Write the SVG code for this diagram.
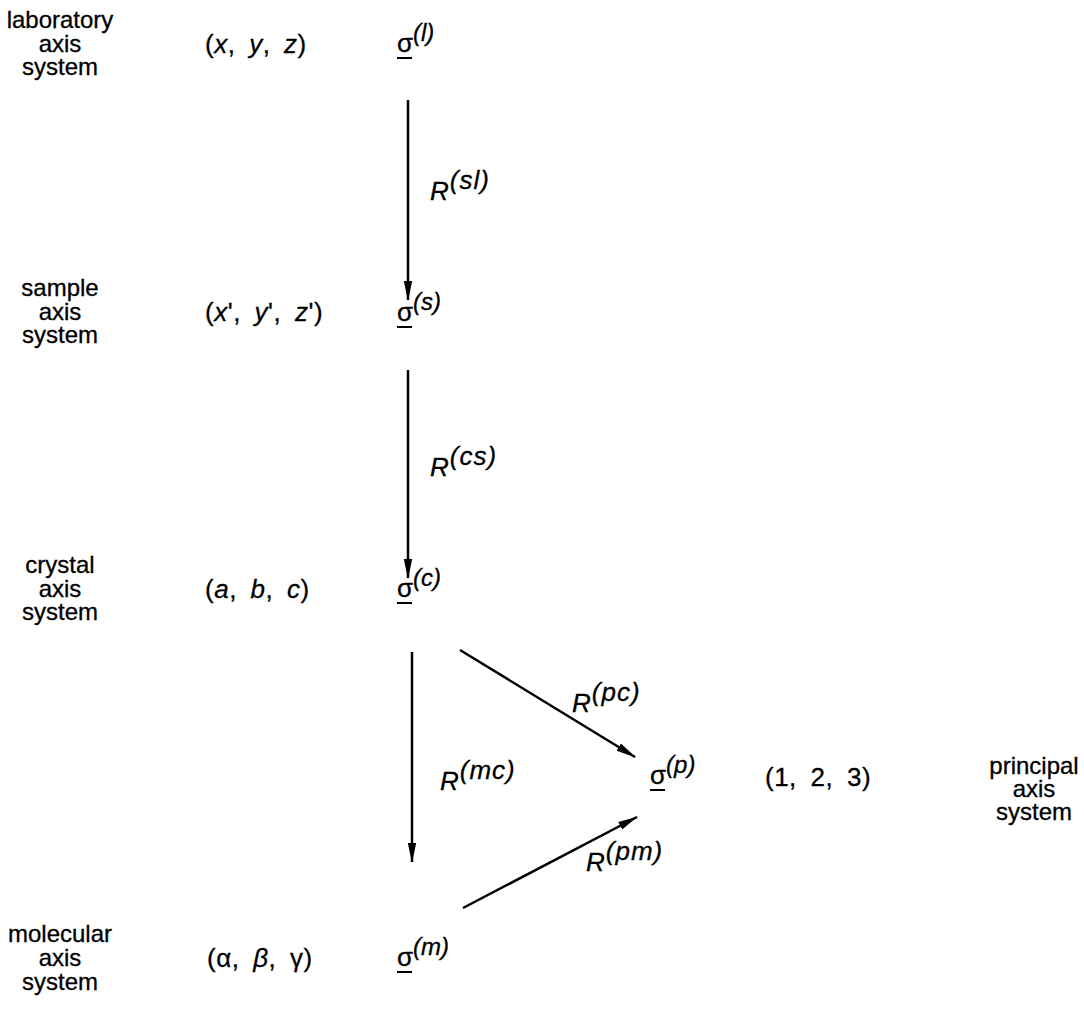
<svg xmlns="http://www.w3.org/2000/svg" width="1084" height="1034" viewBox="0 0 1084 1034">
<style>
text{font-family:"Liberation Sans",Arial,sans-serif;font-size:24px;fill:#000;stroke:#000;stroke-width:0.3}
.lbl{text-anchor:middle}
.co{font-size:26px;word-spacing:6px;letter-spacing:0.5px}
.it{font-style:italic}
.sg{font-size:26px}
.sup{font-size:24px;font-style:italic}
.rl{font-size:26px;font-style:italic;letter-spacing:1px}
.ul{stroke:#000;stroke-width:2}
.conn line{stroke:#000;stroke-width:2.5}
</style>
<defs>
<marker id="ah" viewBox="0 0 20 10" refX="19" refY="5" markerWidth="20" markerHeight="10" markerUnits="userSpaceOnUse" orient="auto">
<path d="M0,0.8 L20,5 L0,9.2 Z" fill="#000"/>
</marker>
</defs>
<rect width="1084" height="1034" fill="#fff"/>

<g id="lab-label"><text class="lbl" x="60" y="28">laboratory</text><text class="lbl" x="60" y="52">axis</text><text class="lbl" x="60" y="75">system</text></g>
<g id="lab-coords"><text class="co" x="205" y="53">(<tspan class="it">x</tspan>, <tspan class="it">y</tspan>, <tspan class="it">z</tspan>)</text></g>
<g id="sigma-l"><text class="sg" x="397" y="52">σ<tspan class="sup" dy="-11">(l)</tspan></text><line class="ul" x1="397" y1="58" x2="412" y2="58"/></g>

<g id="sample-label"><text class="lbl" x="60" y="296">sample</text><text class="lbl" x="60" y="320">axis</text><text class="lbl" x="60" y="343">system</text></g>
<g id="sample-coords"><text class="co" x="205" y="321">(<tspan class="it">x</tspan>', <tspan class="it">y</tspan>', <tspan class="it">z</tspan>')</text></g>
<g id="sigma-s"><text class="sg" x="397" y="321">σ<tspan class="sup" dy="-11">(s)</tspan></text><line class="ul" x1="397" y1="327" x2="412" y2="327"/></g>

<g id="crystal-label"><text class="lbl" x="60" y="573">crystal</text><text class="lbl" x="60" y="597">axis</text><text class="lbl" x="60" y="620">system</text></g>
<g id="crystal-coords"><text class="co" x="205" y="598">(<tspan class="it">a</tspan>, <tspan class="it">b</tspan>, <tspan class="it">c</tspan>)</text></g>
<g id="sigma-c"><text class="sg" x="397" y="597">σ<tspan class="sup" dy="-11">(c)</tspan></text><line class="ul" x1="397" y1="603" x2="412" y2="603"/></g>

<g id="principal-label"><text class="lbl" x="1034" y="774">principal</text><text class="lbl" x="1034" y="797">axis</text><text class="lbl" x="1034" y="820">system</text></g>
<g id="principal-coords"><text class="co" x="765" y="786">(1, 2, 3)</text></g>
<g id="sigma-p"><text class="sg" x="650" y="784">σ<tspan class="sup" dy="-11">(p)</tspan></text><line class="ul" x1="650" y1="790" x2="665" y2="790"/></g>

<g id="molecular-label"><text class="lbl" x="60" y="942">molecular</text><text class="lbl" x="60" y="966">axis</text><text class="lbl" x="60" y="990">system</text></g>
<g id="molecular-coords"><text class="co" x="207" y="967">(α, <tspan class="it">β</tspan>, γ)</text></g>
<g id="sigma-m"><text class="sg" x="397" y="966">σ<tspan class="sup" dy="-11">(m)</tspan></text><line class="ul" x1="397" y1="972" x2="412" y2="972"/></g>

<g class="conn" id="connectors">
<line x1="408" y1="100" x2="408" y2="300" marker-end="url(#ah)"/>
<line x1="408" y1="370" x2="408" y2="578" marker-end="url(#ah)"/>
<line x1="412" y1="652" x2="412" y2="862" marker-end="url(#ah)"/>
<line x1="460" y1="650" x2="635" y2="757" marker-end="url(#ah)"/>
<line x1="463" y1="908" x2="637" y2="817" marker-end="url(#ah)"/>
</g>
<g id="edge-labels">
<text class="rl" x="430" y="200">R<tspan dy="-11">(sl)</tspan></text>
<text class="rl" x="430" y="476">R<tspan dy="-11">(cs)</tspan></text>
<text class="rl" x="572" y="712">R<tspan dy="-11">(pc)</tspan></text>
<text class="rl" x="440" y="790">R<tspan dy="-11">(mc)</tspan></text>
<text class="rl" x="586" y="871">R<tspan dy="-11">(pm)</tspan></text>
</g>
</svg>
